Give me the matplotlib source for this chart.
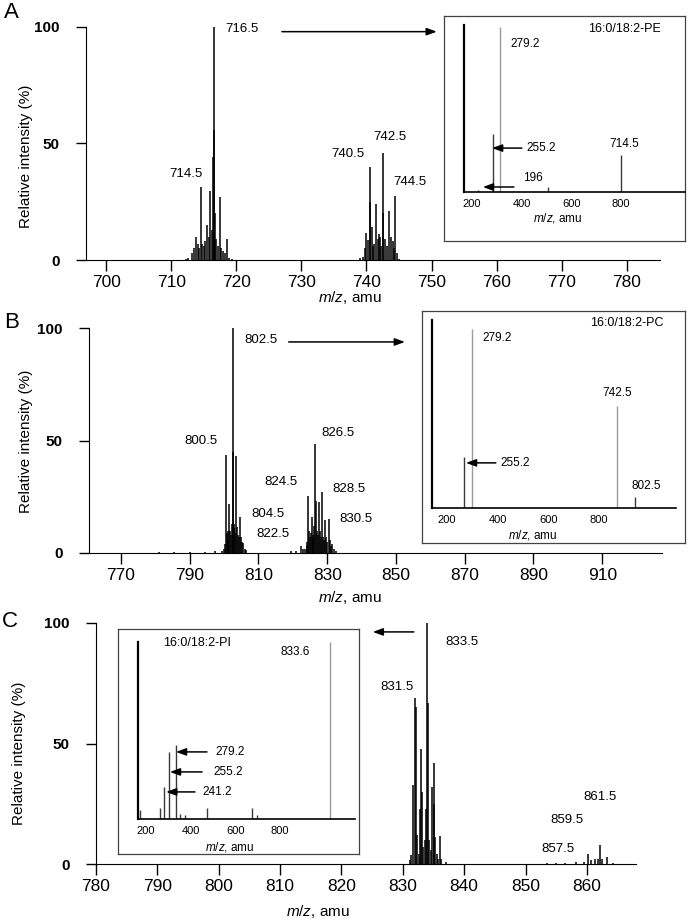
import matplotlib
matplotlib.use('Agg')
import matplotlib.pyplot as plt

plt.rcParams['font.family'] = ['Liberation Sans', 'DejaVu Sans']
plt.rcParams['mathtext.fontset'] = 'custom'
plt.rcParams['mathtext.rm'] = 'Liberation Sans'
plt.rcParams['mathtext.it'] = 'Liberation Sans:italic'

# ---- main spectra (m/z, relative intensity %) ----
pe_mz = [712.3, 712.6, 713.2, 713.5, 713.8, 714.1, 714.3, 714.5, 714.8, 715.0,
         715.2, 715.5, 715.8, 716.0, 716.2, 716.4, 716.5, 716.6, 716.7, 716.9,
         717.2, 717.5, 717.7, 717.9, 718.2, 718.5, 718.8, 719.3,
         739.0, 739.4, 739.7, 739.9, 740.2, 740.5, 740.6, 740.8, 741.0, 741.2,
         741.5, 741.7, 741.9, 742.1, 742.3, 742.5, 742.6, 742.9, 743.2, 743.5,
         743.7, 744.0, 744.2, 744.4, 744.7, 745.0]
pe_int = [0.5, 1, 3, 5, 10, 7, 5, 31.5, 7, 6,
          8, 15, 10, 29.6, 13, 44, 100, 56, 20, 9,
          6, 27, 5, 4, 3, 9, 1, 0.5,
          0.8, 1.5, 5, 11.7, 8.6, 40, 25, 14, 6, 7,
          24, 9, 11, 10, 6, 46, 20, 9, 6, 21,
          10, 8, 5, 27.5, 3, 0.5]

pc_mz = [781.0, 785.5, 790.0, 794.5, 797.5, 799.5, 800.0, 800.2, 800.5, 800.8,
         801.0, 801.2, 801.5, 801.8, 802.0, 802.2, 802.5, 802.6, 802.8, 803.0,
         803.2, 803.5, 803.8, 804.0, 804.3, 804.6, 804.9, 805.2, 805.6, 806.0,
         806.5,
         819.6, 821.0, 822.5, 823.0, 823.5, 824.0, 824.2, 824.5, 824.8, 825.0,
         825.2, 825.5, 825.8, 826.0, 826.2, 826.5, 826.6, 826.9, 827.2, 827.5,
         827.8, 828.1, 828.4, 828.7, 829.0, 829.4, 829.7, 830.0, 830.5, 830.8,
         831.1, 831.5, 832.0, 832.5]
pc_int = [0.5, 0.5, 0.5, 0.6, 0.7, 1, 2, 4, 43.6, 8.7,
          6, 10, 22, 10, 8, 13, 100, 45, 13, 11,
          9, 43, 11.7, 8, 7, 16, 7, 5, 4.3, 2,
          1.3,
          1, 1, 3, 2, 2, 3, 5, 25.3, 10, 7,
          9, 16, 8, 7, 12, 48.3, 23, 10, 8, 22.8,
          10, 7, 27, 7, 6, 14.7, 7, 5, 15, 6,
          3, 4, 2, 1]

pi_mz = [831.2, 831.4, 831.7, 832.0, 832.1, 832.3, 832.6, 832.8, 833.0, 833.1,
         833.3, 833.6, 833.8, 834.0, 834.1, 834.3, 834.6, 834.8, 835.0, 835.1,
         835.3, 835.6, 835.8, 836.0, 836.3, 837.0,
         853.5, 855.0, 856.5, 858.3, 859.5, 860.2, 860.6, 861.3, 861.8, 862.2,
         862.5, 863.2, 864.2]
pi_int = [1.5, 3.7, 32.8, 69, 65, 12, 4, 23, 47.6, 30,
          7, 10, 23, 100, 67, 10, 6, 32, 42, 25,
          11, 4, 2, 11.6, 2, 1,
          0.4, 0.4, 0.4, 1, 1, 4, 1.5, 2, 2, 8,
          2, 3, 0.5]

# ---- MS/MS insets ----
pe_frag_mz = [224, 284.6, 312.8, 506, 800]
pe_frag_int = [1, 35, 99, 3, 22]
pc_frag_mz = [267, 298.7, 871, 942]
pc_frag_int = [27, 95, 54, 6]
pi_frag_mz = [173, 263, 281, 303, 334, 352, 375, 473, 675, 697, 1024]
pi_frag_int = [5, 6, 18, 38, 42, 3, 2, 6, 6, 2, 100]

W, H = 689, 922
fig = plt.figure(figsize=(W / 100, H / 100), dpi=100)


def px_axes(l, t, r, b):
    return fig.add_axes([l / W, 1 - b / H, (r - l) / W, (b - t) / H])


def main_panel(box, mz, inten, xlim, xticks, letter, letter_xy, ylab_x, ylab_y, xlab_xy):
    ax = px_axes(*box)
    ax.vlines(mz, 0, inten, color='k', lw=1.1)
    ax.set_xlim(*xlim)
    ax.set_ylim(0, 100)
    ax.set_xticks(xticks)
    ax.set_yticks([0, 50, 100])
    for s in ['top', 'right']:
        ax.spines[s].set_visible(False)
    ax.tick_params(axis='x', length=8, width=1, pad=3, labelsize=12.5)
    ax.tick_params(axis='y', length=7, width=1, pad=12, labelsize=11)
    for lab in ax.get_yticklabels():
        lab.set_fontweight('bold')
    ax.text(ylab_x, ylab_y, 'Relative intensity (%)', rotation=90, fontsize=11,
            ha='center', va='center', transform=ax.transAxes)
    ax.text(xlab_xy[0], xlab_xy[1], r'$\it{m/z}$, amu', fontsize=11,
            ha='center', va='center', transform=ax.transAxes)
    fig.text(letter_xy[0] / W, 1 - letter_xy[1] / H, letter, fontsize=16,
             ha='center', va='center')
    return ax


def inset_panel(box, inner, mz, inten, xlim, title, title_xy, title_ha, xlab_xy):
    frame = px_axes(*box)
    frame.set_xticks([])
    frame.set_yticks([])
    frame.set_facecolor('white')
    for s in frame.spines.values():
        s.set_color('#444444')
        s.set_linewidth(0.9)
    ax = px_axes(*inner)
    ax.patch.set_alpha(0)
    cols = ['#3a3a3a' if v < 50 else '#9a9a9a' for v in inten]
    ax.vlines(mz, 0, inten, colors=cols, lw=1.0)
    ax.set_xlim(*xlim)
    ax.set_ylim(0, 100)
    ax.set_xticks([200, 400, 600, 800])
    ax.set_yticks([])
    for s in ['top', 'right']:
        ax.spines[s].set_visible(False)
    ax.spines['left'].set_linewidth(1.6)
    ax.spines['bottom'].set_linewidth(1.2)
    ax.tick_params(axis='x', length=0, pad=5, labelsize=8)
    ax.text(title_xy[0], title_xy[1], title, fontsize=9, ha=title_ha, va='center',
            transform=ax.transAxes)
    ax.text(xlab_xy[0], xlab_xy[1], r'$\it{m/z}$, amu', fontsize=8.5,
            ha='center', va='center', transform=ax.transAxes)
    return ax


arrow_kw = dict(arrowstyle='-|>,head_length=0.6,head_width=0.22', color='k', lw=1.1,
                shrinkA=0, shrinkB=0)

# ---- A ----
axA = main_panel((86, 27, 660, 260), pe_mz, pe_int, (696.9, 785.1), range(700, 790, 10),
                 'A', (11, 13), -0.105, 0.446, (0.46, -0.162))
for txt, x, y in [('716.5', 720.9, 99), ('714.5', 712.3, 37), ('740.5', 737.2, 45.5),
                  ('742.5', 743.6, 52.8), ('744.5', 746.7, 33.5)]:
    axA.text(x, y, txt, fontsize=9.5, ha='center', va='center')
axA.annotate('', xy=(750.8, 98), xytext=(727, 98), arrowprops=arrow_kw, annotation_clip=False)

insA = inset_panel((444, 16, 685, 241), (464, 25, 685, 192), pe_frag_mz, pe_frag_int,
                   (168, 1058), '16:0/18:2-PE', (0.891, 0.976), 'right', (0.425, -0.156))
insA.text(357, 88.6, '279.2', fontsize=8.5, va='center')
insA.text(421, 26.3, '255.2', fontsize=8.5, va='center')
insA.text(405, 8.4, '196', fontsize=8.5, va='center')
insA.text(752, 28.7, '714.5', fontsize=8.5, va='center')
insA.annotate('', xy=(281, 26.3), xytext=(401, 26.3), arrowprops=arrow_kw)
insA.annotate('', xy=(244, 3), xytext=(369, 3), arrowprops=arrow_kw)

# ---- B ----
axB = main_panel((89, 328, 662, 553), pc_mz, pc_int, (760.7, 927.4), range(770, 920, 20),
                 'B', (12, 323), -0.11, 0.498, (0.455, -0.2))
for txt, x, y in [('802.5', 810.7, 94.7), ('800.5', 793.3, 49.8), ('826.5', 833.1, 53.3),
                  ('824.5', 816.5, 31.6), ('828.5', 836.3, 28.4), ('804.5', 812.7, 17.3),
                  ('830.5', 838.3, 15.1), ('822.5', 814.2, 8.4)]:
    axB.text(x, y, txt, fontsize=9.5, ha='center', va='center')
axB.annotate('', xy=(852.6, 93.8), xytext=(818.8, 93.8), arrowprops=arrow_kw, annotation_clip=False)

insB = inset_panel((422, 311, 685, 543), (432, 320, 676, 508), pc_frag_mz, pc_frag_int,
                   (141, 1104), '16:0/18:2-PC', (0.951, 0.984), 'right', (0.414, -0.144))
insB.text(342, 90.4, '279.2', fontsize=8.5, va='center')
insB.text(812, 61, '742.5', fontsize=8.5, va='center')
insB.text(413, 24, '255.2', fontsize=8.5, va='center')
insB.text(930, 11.7, '802.5', fontsize=8.5, va='center')
insB.annotate('', xy=(275, 24), xytext=(393, 24), arrowprops=arrow_kw)

# ---- C ----
axC = main_panel((96, 623, 636, 864), pi_mz, pi_int, (780, 868), range(780, 870, 10),
                 'C', (10, 621), -0.143, 0.46, (0.411, -0.199))
for txt, x, y in [('833.5', 839.6, 92.1), ('831.5', 829.0, 73.4), ('861.5', 862.2, 27.8),
                  ('859.5', 856.7, 18.3), ('857.5', 855.2, 6.2)]:
    axC.text(x, y, txt, fontsize=9.5, ha='center', va='center')
axC.annotate('', xy=(825.1, 96.3), xytext=(831.8, 96.3), arrowprops=arrow_kw)

insC = inset_panel((118, 629, 359, 854), (138, 642, 355, 819), pi_frag_mz, pi_frag_int,
                   (164, 1136), '16:0/18:2-PI', (0.115, 0.994), 'left', (0.424, -0.158))
insC.text(0.724, 0.944, '833.6', fontsize=8.5, ha='center', va='center', transform=insC.transAxes)
insC.text(513, 37.9, '279.2', fontsize=8.5, va='center')
insC.text(500, 26.6, '255.2', fontsize=8.5, va='center')
insC.text(451, 15.3, '241.2', fontsize=8.5, va='center')
insC.annotate('', xy=(334, 37.9), xytext=(473, 37.9), arrowprops=arrow_kw)
insC.annotate('', xy=(307, 26.6), xytext=(451, 26.6), arrowprops=arrow_kw)
insC.annotate('', xy=(290, 15.3), xytext=(419, 15.3), arrowprops=arrow_kw)

fig.savefig('out.png', dpi=100)
